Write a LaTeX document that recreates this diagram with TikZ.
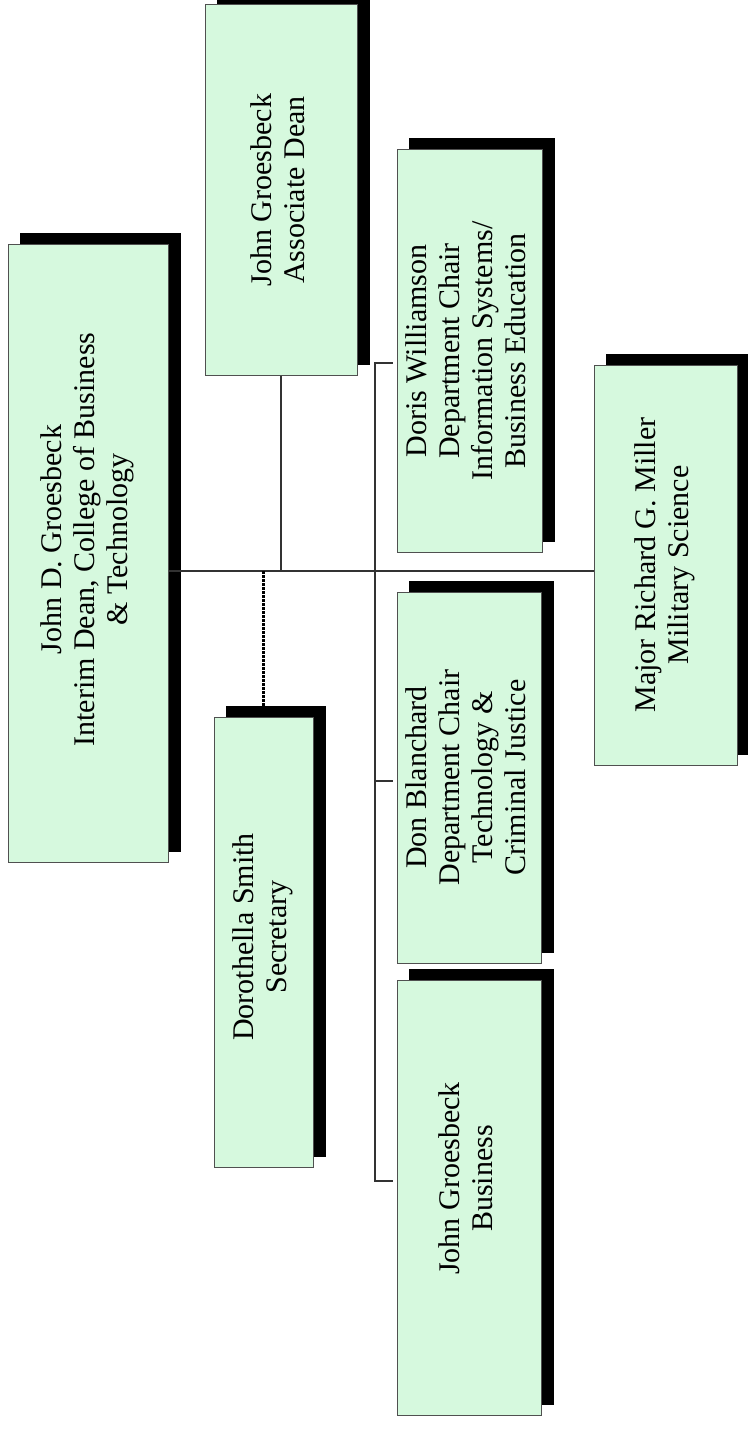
\documentclass[tikz,border=0pt]{standalone}
\usepackage{fontspec}
\setmainfont{Liberation Serif}
\usepackage{graphicx}
\pgfdeclarelayer{background}
\pgfsetlayers{background,main}
\definecolor{boxgreen}{RGB}{214,249,222}
\definecolor{edgegray}{RGB}{80,80,80}
\definecolor{wiregray}{RGB}{50,50,50}
% #1 = padding added at the text start (moves the text up on the page by half of it)
\newcommand{\rtext}[2][0pt]{\rotatebox{90}{\hspace{#1}\begin{tabular}{@{}c@{}}#2\end{tabular}}}
\begin{document}
\begin{tikzpicture}[x=1pt,y=-1pt,
  orgbox/.style={draw=edgegray, line width=1pt, fill=boxgreen, rectangle, inner sep=0pt,
                 font=\fontsize{30}{33}\selectfont},
  wire/.style={draw=wiregray, line width=1.2pt},
  dotwire/.style={draw=black, line width=2.2pt, dash pattern=on 2.5pt off 1.5pt}]
\useasboundingbox (0,0) rectangle (747,1431);

\node[orgbox, minimum width=160pt, minimum height=617pt] (dean) at (88,553.5)
  {\rtext[28pt]{John D. Groesbeck\\Interim Dean, College of Business\\\& Technology}};
\node[orgbox, minimum width=152pt, minimum height=370pt] (assoc) at (281,190)
  {\rtext{John Groesbeck\\Associate Dean}};
\node[orgbox, minimum width=145pt, minimum height=402pt] (doris) at (469.5,351)
  {\rtext{Doris Williamson\\Department Chair\\Information Systems/\\Business Education}};
\node[orgbox, minimum width=144pt, minimum height=371pt] (don) at (469,777.5)
  {\rtext{Don Blanchard\\Department Chair\\Technology \&\\Criminal Justice}};
\node[orgbox, minimum width=144pt, minimum height=435pt] (jgbus) at (469,1197.5)
  {\rtext[38pt]{John Groesbeck\\Business}};
\node[orgbox, minimum width=99pt, minimum height=450pt] (doro) at (263.5,942)
  {\rtext[10pt]{Dorothella Smith\\Secretary}};
\node[orgbox, minimum width=143pt, minimum height=400pt] (major) at (665.5,565)
  {\rtext{Major Richard G. Miller\\Military Science}};

\begin{pgfonlayer}{background}
\fill[white] (0,0) rectangle (747,1431);
\foreach \n in {dean,assoc,doris,don,jgbus,doro,major}
  \fill[black] ([shift={(12,-11)}]\n.south west) rectangle ([shift={(12,-11)}]\n.north east);
\end{pgfonlayer}

\coordinate (m) at (0,571);
\coordinate (bx) at (375,0);
\coordinate (t1) at (0,363);
\coordinate (t2) at (0,781);
\coordinate (t3) at (0,1181);

\draw[wire] (dean.east |- m) -- (major.west |- m);
\draw[wire] (assoc.south) -- (assoc.south |- m);
\draw[wire] ([xshift=-4pt]doris.west |- t1) -- (bx |- t1) -- (bx |- t3) -- ([xshift=-4pt]jgbus.west |- t3);
\draw[wire] (bx |- t2) -- ([xshift=-4pt]don.west |- t2);
\draw[dotwire] (doro.north |- m) -- ([yshift=11pt]doro.north);
\end{tikzpicture}
\end{document}
